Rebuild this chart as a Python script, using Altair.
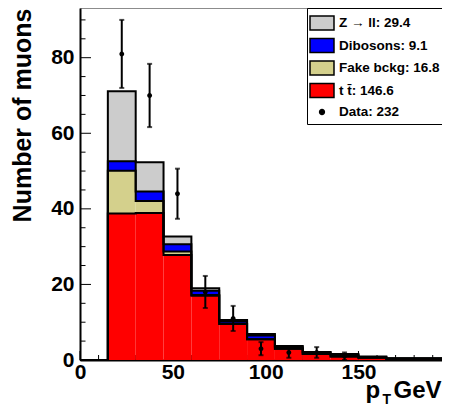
import altair as alt
import pandas as pd
import numpy as np

# ---- data ----
bin_lo = [0, 15, 30, 45, 60, 75, 90, 105, 120, 135, 150, 165, 180]
bin_width = 15
ttbar = [0, 38.8, 38.9, 27.8, 17.0, 9.5, 5.5, 3.0, 1.6, 0.9, 0.6, 0.3, 0.3]
fake = [0, 11.3, 3.2, 0.9, 0.2, 0.1, 0.0, 0.0, 0.0, 0.0, 0.0, 0.0, 0.0]
dibosons = [0, 2.5, 2.5, 1.9, 1.1, 0.6, 1.0, 0.4, 0.3, 0.4, 0.2, 0.1, 0.1]
zll = [0, 18.5, 7.7, 2.1, 0.7, 0.4, 0.4, 0.3, 0.2, 0.3, 0.1, 0.05, 0.05]
data_counts = [0, 81, 70, 44, 18, 11, 3, 2, 2, 1, 0, 0, 0]

labels = ["Z \u2192 ll: 29.4", "Dibosons: 9.1", "Fake bckg: 16.8", "t t\u0304: 146.6", "Data: 232"]
colors = ["#cccccc", "#0000ff", "#d4d08c", "#ff0000", "#000000"]

y_major = [0, 20, 40, 60, 80]
y_minor = [5, 10, 15, 25, 30, 35, 45, 50, 55, 65, 70, 75, 85, 90]
x_major = [0, 50, 100, 150]
x_minor = [10, 20, 30, 40, 60, 70, 80, 90, 110, 120, 130, 140, 160, 170, 180, 190]

# ---- build tables ----
stack = [(labels[3], ttbar), (labels[2], fake), (labels[1], dibosons), (labels[0], zll)]
rect_rows, line_rows = [], []
cum = np.zeros(len(bin_lo))
for name, vals in stack:
    v = np.array(vals, dtype=float)
    for i, lo in enumerate(bin_lo):
        if v[i] > 0:
            rect_rows.append(dict(series=name, lo=lo, hi=lo + bin_width,
                                  y0=cum[i], y1=cum[i] + v[i]))
    cum = cum + v
    pts = [(bin_lo[i], cum[i]) for i in range(len(bin_lo))]
    end = bin_lo[-1] + bin_width
    pts += [(end, cum[-1]), (end, 0.0)]
    for k, (x, y) in enumerate(pts):
        line_rows.append(dict(level=name, idx=k, x=x, y=y))
rects = pd.DataFrame(rect_rows)
lines = pd.DataFrame(line_rows)
pts_df = pd.DataFrame({"xc": [b + bin_width / 2 for b in bin_lo], "n": data_counts,
                       "series": labels[4]})
pts_df = pts_df[pts_df["n"] > 0]

W, H = 362, 352
xs = alt.Scale(domain=[0, 195], nice=False, zero=False)
ys = alt.Scale(domain=[0, 93.15], nice=False, zero=False)
x_axis = alt.Axis(values=x_major, title="p\u00a0\u00a0GeV",
                  titleAlign="right", titleBaseline="top", titleX=W - 1, titleY=18,
                  titleFontSize=24, labelPadding=1)
y_axis = alt.Axis(values=y_major, title="Number of muons", titleAnchor="end",
                  titleFontSize=25, titlePadding=15, labelPadding=6)

rect_path = "M-1.333,-0.78H1.333V0.78H-1.333Z"
dot_path = "M-0.267,0A0.267,0.267 0 1,0 0.267,0A0.267,0.267 0 1,0 -0.267,0Z"
cscale = alt.Scale(domain=labels, range=colors)
sscale = alt.Scale(domain=labels, range=[rect_path] * 4 + [dot_path])
legend = alt.Legend(title=None, orient="none", legendX=227, legendY=0,
                    strokeColor="black", fillColor="white", padding=5,
                    labelFont="Liberation Sans", labelFontWeight="bold",
                    labelFontSize=13.5, labelColor="black",
                    symbolStrokeColor="black", symbolStrokeWidth=1.5,
                    symbolSize=324, rowPadding=0.5, labelOffset=7, cornerRadius=0)


def X(f):
    return alt.X(f, scale=xs, axis=x_axis)


def Y(f):
    return alt.Y(f, scale=ys, axis=y_axis)


ymaj = alt.Chart(pd.DataFrame({"v": y_major})).mark_rule(color="black", strokeWidth=1).encode(
    y=Y("v:Q"), x=alt.value(0), x2=alt.value(11))
ymin = alt.Chart(pd.DataFrame({"v": y_minor})).mark_rule(color="black", strokeWidth=1).encode(
    y=Y("v:Q"), x=alt.value(0), x2=alt.value(5.5))
xmaj = alt.Chart(pd.DataFrame({"v": x_major})).mark_rule(color="black", strokeWidth=1).encode(
    x=X("v:Q"), y=alt.value(H), y2=alt.value(H - 9))
xmin = alt.Chart(pd.DataFrame({"v": x_minor})).mark_rule(color="black", strokeWidth=1).encode(
    x=X("v:Q"), y=alt.value(H), y2=alt.value(H - 5))

bars = alt.Chart(rects).mark_rect().encode(
    x=X("lo:Q"), x2="hi:Q", y=Y("y0:Q"), y2="y1:Q",
    color=alt.Color("series:N", scale=cscale, legend=legend),
)

steps = alt.Chart(lines).mark_line(interpolate="step-after", color="black", strokeWidth=2).encode(
    x=X("x:Q"), y=Y("y:Q"), detail="level:N", order="idx:Q")

base_pts = alt.Chart(pts_df).transform_calculate(
    lo="datum.n - sqrt(datum.n)", hi="datum.n + sqrt(datum.n)")
err = base_pts.mark_rule(color="black", strokeWidth=2).encode(
    x=X("xc:Q"), y=Y("lo:Q"), y2="hi:Q")
cap_lo = base_pts.mark_tick(orient="horizontal", color="black", size=5, thickness=2).encode(
    x=X("xc:Q"), y=Y("lo:Q"))
cap_hi = base_pts.mark_tick(orient="horizontal", color="black", size=5, thickness=2).encode(
    x=X("xc:Q"), y=Y("hi:Q"))
dots = base_pts.mark_point(filled=True, opacity=1, size=324).encode(
    x=X("xc:Q"), y=Y("n:Q"),
    color=alt.Color("series:N", scale=cscale, legend=legend),
    shape=alt.Shape("series:N", scale=sscale, legend=legend))

chart = alt.layer(ymaj, ymin, xmaj, xmin, bars, steps, err, cap_lo, cap_hi, dots).properties(
    width=W, height=H,
    autosize=alt.AutoSizeParams(type="none"),
    padding={"left": 72, "top": 0, "right": 0, "bottom": 44},
    title=alt.TitleParams(text="T", orient="bottom", anchor="end", frame="group",
                          font="Liberation Sans", fontSize=14, fontWeight="bold", color="black",
                          offset=-9, dx=-51),
).configure_view(stroke="#8c8c8c", strokeWidth=1).configure_axis(
    domainColor="black", domainWidth=2, ticks=False, grid=False,
    labelFont="Liberation Sans", labelFontWeight="bold", labelFontSize=21, labelColor="black",
    labelOverlap=False, labelFlush=False,
    titleFont="Liberation Sans", titleFontWeight="bold", titleFontSize=23, titleColor="black",
)

chart.save("out.html", embed_options={"renderer": "svg", "actions": False})
